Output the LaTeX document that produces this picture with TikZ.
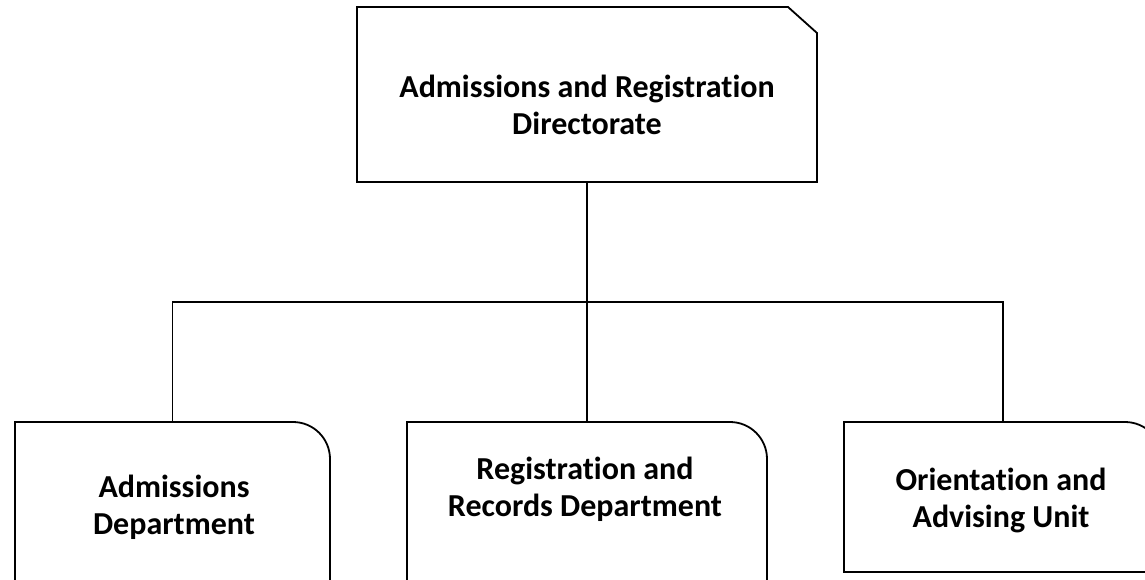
\documentclass[tikz,border=0pt]{standalone}
\usepackage{fontspec}
\setmainfont{Carlito}[Ligatures=NoCommon]

\begin{document}
\begin{tikzpicture}[x=1pt,y=1pt,
	unit/.style={minimum width=#1,inner sep=0pt,outer sep=0pt},
	caption/.style={font=\fontsize{32}{37}\selectfont\bfseries,align=center},
	frame/.style={line width=1.8pt,line join=miter},
	link/.style={line width=1.3pt}]
	\clip (0,0) rectangle (1145,-580);
	\node (dir) [unit=460,minimum height=175] at (587,-94.5) {};
	\node [caption] at (587,-105) {Admissions and Registration\\Directorate};

	\node (adm) [unit=315,minimum height=218] at (172.5,-531) {};
	\node (rrd) [unit=360,minimum height=218] at (587,-531) {};
	\node (oau) [unit=318,minimum height=150] at (1003,-497) {};
	\node [caption] at (174,-507) {Admissions\\Department};
	\node [caption] at (585,-489) {Registration and\\Records Department};
	\node [caption] at (1001,-500) {Orientation and\\Advising Unit};

	\draw[frame] (dir.south west) -- (dir.north west) -- ([xshift=-29]dir.north east) -- ([yshift=-26]dir.north east) -- (dir.south east) -- cycle;
	\draw[frame] (adm.south west) -- (adm.north west) -- ([xshift=-37]adm.north east) arc[start angle=90,end angle=0,radius=37] -- (adm.south east);
	\draw[frame] (rrd.south west) -- (rrd.north west) -- ([xshift=-37]rrd.north east) arc[start angle=90,end angle=0,radius=37] -- (rrd.south east);
	\draw[frame] (oau.south west) -- (oau.north west) -- ([xshift=-37]oau.north east) arc[start angle=90,end angle=0,radius=37] -- (oau.south east) -- cycle;

	\coordinate (bus) at (587,-302);
	\draw[link] (dir.south) -- (bus);
	\draw[link] (adm.north) |- (bus) -| (oau.north);
	\draw[link] (bus) -- (rrd.north);
\end{tikzpicture}
\end{document}
